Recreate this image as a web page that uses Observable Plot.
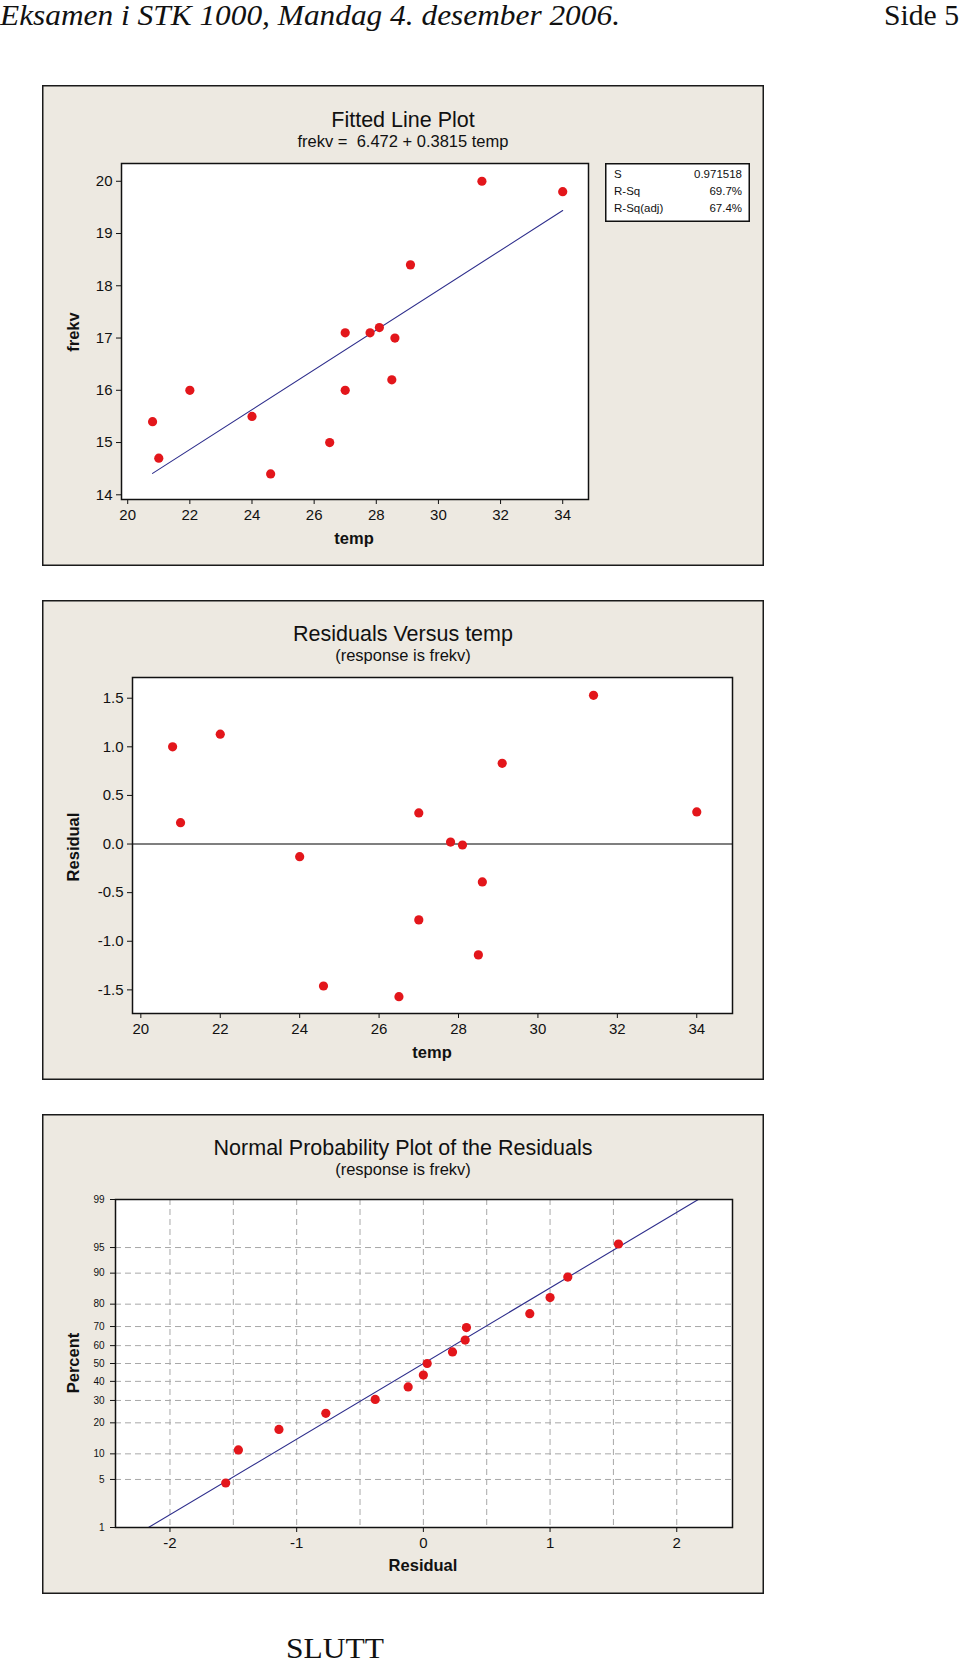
<!DOCTYPE html>
<html>
<head>
<meta charset="utf-8">
<script src="https://cdn.jsdelivr.net/npm/d3@7"></script>
<script src="https://cdn.jsdelivr.net/npm/@observablehq/plot@0.6"></script>
<style>
  html, body { margin: 0; padding: 0; background: #fff; }
  body { position: relative; width: 960px; height: 1663px; overflow: hidden; }
  .serif { position: absolute; font-family: "Liberation Serif", "DejaVu Serif", serif; font-size: 29px; line-height: 24px; white-space: nowrap; color: #111; transform-origin: 0 0; }
  .panel { position: absolute; left: 42px; width: 722px; background: #EDE9E1; box-shadow: inset 0 0 0 1.5px #1a1a1a; }
  .panel svg { position: absolute; left: 0; top: 0; }
  .t { position: absolute; left: 0; width: 100%; text-align: center; font-family: "Liberation Sans", Arial, sans-serif; color: #111; white-space: nowrap; transform: translateY(-50%); }
  .title { font-size: 21.5px; }
  .sub { font-size: 16.5px; }
  .xl { position: absolute; font-family: "Liberation Sans", Arial, sans-serif; font-weight: bold; font-size: 16.5px; color: #111; white-space: nowrap; transform: translate(-50%, -50%); }
  .yl { position: absolute; font-family: "Liberation Sans", Arial, sans-serif; font-weight: bold; font-size: 16.5px; color: #111; white-space: nowrap; transform: translate(-50%, -50%) rotate(-90deg); }
  .stats { position: absolute; background: #fff; box-shadow: inset 0 0 0 1.5px #111; font-family: "Liberation Sans", Arial, sans-serif; font-size: 11.5px; color: #111; box-sizing: border-box; padding: 3px 8px 0 9px; }
  .stats div { display: flex; justify-content: space-between; line-height: 17px; }
</style>
</head>
<body>
<div id="hdrL" class="serif" style="left:0px; top:3px; font-style:italic;">Eksamen i STK 1000, Mandag 4. desember 2006.</div>
<div id="hdrR" class="serif" style="left:884px; top:3px;">Side 5</div>

<div id="p1" class="panel" style="top:85px; height:481px;">
  <div class="t title" style="top:35px;">Fitted Line Plot</div>
  <div class="t sub" style="top:56px;">frekv =&nbsp; 6.472 + 0.3815 temp</div>
  <div class="xl" style="left:312px; top:453px;">temp</div>
  <div class="yl" style="left:31px; top:247px;">frekv</div>
</div>

<div id="p2" class="panel" style="top:600px; height:480px;">
  <div class="t title" style="top:34px;">Residuals Versus temp</div>
  <div class="t sub" style="top:55px;">(response is frekv)</div>
  <div class="xl" style="left:390px; top:452px;">temp</div>
  <div class="yl" style="left:31px; top:247px;">Residual</div>
</div>

<div id="p3" class="panel" style="top:1114px; height:480px;">
  <div class="t title" style="top:34px;">Normal Probability Plot of the Residuals</div>
  <div class="t sub" style="top:55px;">(response is frekv)</div>
  <div class="xl" style="left:381px; top:451px;">Residual</div>
  <div class="yl" style="left:31px; top:249px;">Percent</div>
</div>

<div id="slutt" class="serif" style="left:286px; top:1636px;">SLUTT</div>

<script>
// ---------------- data ----------------
const temp     = [20.8, 21.0, 22.0, 24.0, 24.6, 26.5, 27.0, 27.0, 27.8, 28.1, 28.5, 28.6, 29.1, 31.4, 34.0];
const frekv    = [15.4, 14.7, 16.0, 15.5, 14.4, 15.0, 17.1, 16.0, 17.1, 17.2, 16.2, 17.0, 18.4, 20.0, 19.8];
const residual = [1.00, 0.22, 1.13, -0.13, -1.46, -1.57, 0.32, -0.78, 0.02, -0.01, -1.14, -0.39, 0.83, 1.53, 0.33];

// fitted regression line endpoints (frekv = 6.472 + 0.3815 temp)
const fitTemp  = [20.8, 34.0];
const fitFrekv = [14.41, 19.44];

// normal probability plot: ordered residuals and plotting percentages
const normResid = [-1.56, -1.46, -1.14, -0.77, -0.38, -0.12, 0.00, 0.03, 0.23, 0.33, 0.34, 0.84, 1.00, 1.14, 1.54];
const normPct   = [4.5, 11.0, 17.5, 24.0, 30.5, 37.0, 43.5, 50.0, 56.5, 63.0, 69.5, 76.0, 82.5, 89.0, 95.5];
const normLineResid = [-2.17, 2.17];
const normLinePct   = [1, 99];

// tick labels
const tempTicks  = [20, 22, 24, 26, 28, 30, 32, 34];
const frekvTicks = [14, 15, 16, 17, 18, 19, 20];
const residTicks = [-1.5, -1.0, -0.5, 0.0, 0.5, 1.0, 1.5];
const normXTicks = [-2, -1, 0, 1, 2];
const normXGrid  = [-2, -1.5, -1, -0.5, 0, 0.5, 1, 1.5, 2];
const pctTicks   = [1, 5, 10, 20, 30, 40, 50, 60, 70, 80, 90, 95, 99];
const pctGrid    = [5, 10, 20, 30, 40, 50, 60, 70, 80, 90, 95];

// summary statistics box
const statLabels = ["S", "R-Sq", "R-Sq(adj)"];
const statValues = ["0.971518", "69.7%", "67.4%"];

// ---------------- helpers ----------------
function qnorm(p) {
  const a = [-3.969683028665376e+01, 2.209460984245205e+02, -2.759285104469687e+02, 1.383577518672690e+02, -3.066479806614716e+01, 2.506628277459239e+00];
  const b = [-5.447609879822406e+01, 1.615858368580409e+02, -1.556989798598866e+02, 6.680131188771972e+01, -1.328068155288572e+01];
  const c = [-7.784894002430293e-03, -3.223964580411365e-01, -2.400758277161838e+00, -2.549732539343734e+00, 4.374664141464968e+00, 2.938163982698783e+00];
  const d = [7.784695709041462e-03, 3.224671290700398e-01, 2.445134137142996e+00, 3.754408661907416e+00];
  const pl = 0.02425, ph = 1 - pl;
  let q, r;
  if (p < pl) {
    q = Math.sqrt(-2 * Math.log(p));
    return (((((c[0]*q+c[1])*q+c[2])*q+c[3])*q+c[4])*q+c[5]) / ((((d[0]*q+d[1])*q+d[2])*q+d[3])*q+1);
  }
  if (p > ph) {
    q = Math.sqrt(-2 * Math.log(1 - p));
    return -(((((c[0]*q+c[1])*q+c[2])*q+c[3])*q+c[4])*q+c[5]) / ((((d[0]*q+d[1])*q+d[2])*q+d[3])*q+1);
  }
  q = p - 0.5; r = q * q;
  return (((((a[0]*r+a[1])*r+a[2])*r+a[3])*r+a[4])*r+a[5])*q / (((((b[0]*r+b[1])*r+b[2])*r+b[3])*r+b[4])*r+1);
}

const FONT = "'Liberation Sans', Arial, sans-serif";
const RED = "#E3161B";
const NAVY = "#2E2E8C";
const baseStyle = { background: "transparent", fontFamily: FONT, fontSize: "15px", color: "#111", overflow: "visible" };

// ---------------- panel 1: fitted line plot ----------------
const pts = temp.map((t, i) => ({ temp: t, frekv: frekv[i], residual: residual[i] }));
const fitLine = fitTemp.map((t, i) => ({ temp: t, frekv: fitFrekv[i] }));

const p1 = Plot.plot({
  width: 722, height: 481,
  marginLeft: 79, marginRight: 176, marginTop: 78, marginBottom: 67,
  style: baseStyle,
  x: { domain: [19.80, 34.83], ticks: tempTicks, tickSize: 5, tickPadding: 5, label: null, tickFormat: d => String(d) },
  y: { domain: [13.91, 20.34], ticks: frekvTicks, tickSize: 5, tickPadding: 4, label: null, tickFormat: d => String(d) },
  marks: [
    Plot.frame({ fill: "white" }),
    Plot.line(fitLine, { x: "temp", y: "frekv", stroke: NAVY, strokeWidth: 1.1 }),
    Plot.dot(pts, { x: "temp", y: "frekv", r: 4.6, fill: RED }),
    Plot.frame({ stroke: "#111", strokeWidth: 1.5 })
  ]
});
document.getElementById("p1").prepend(p1);

const box = document.createElement("div");
box.className = "stats";
Object.assign(box.style, { left: "563px", top: "78px", width: "145px", height: "59px" });
statLabels.forEach((lab, i) => {
  const row = document.createElement("div");
  const a = document.createElement("span"); a.textContent = lab;
  const b = document.createElement("span"); b.textContent = statValues[i];
  row.append(a, b); box.append(row);
});
document.getElementById("p1").append(box);

// ---------------- panel 2: residuals vs temp ----------------
const p2 = Plot.plot({
  width: 722, height: 480,
  marginLeft: 90, marginRight: 32, marginTop: 77, marginBottom: 67,
  style: baseStyle,
  x: { domain: [19.79, 34.9], ticks: tempTicks, tickSize: 5, tickPadding: 5, label: null, tickFormat: d => String(d) },
  y: { domain: [-1.743, 1.713], ticks: residTicks, tickSize: 5, tickPadding: 4, label: null, tickFormat: d => d.toFixed(1) },
  marks: [
    Plot.frame({ fill: "white" }),
    Plot.ruleY([0], { stroke: "#555", strokeWidth: 1.6 }),
    Plot.dot(pts, { x: "temp", y: "residual", r: 4.6, fill: RED }),
    Plot.frame({ stroke: "#111", strokeWidth: 1.5 })
  ]
});
document.getElementById("p2").prepend(p2);

// ---------------- panel 3: normal probability plot ----------------
const normPts = normResid.map((r, i) => ({ resid: r, pct: normPct[i] }));
const normLine = normLineResid.map((r, i) => ({ resid: r, pct: normLinePct[i] }));
const zOf = d => qnorm(d.pct / 100);

const p3 = Plot.plot({
  width: 722, height: 480,
  marginLeft: 73, marginRight: 32, marginTop: 85, marginBottom: 67,
  style: baseStyle,
  x: { domain: [-2.43, 2.44], ticks: normXTicks, tickSize: 5, tickPadding: 5, label: null, tickFormat: d => String(d) },
  y: {
    domain: [qnorm(0.01), qnorm(0.99)],
    ticks: pctTicks.map(p => qnorm(p / 100)),
    tickSize: 5, tickPadding: 6, label: null,
    tickFormat: z => { const i = pctTicks.findIndex(p => Math.abs(qnorm(p / 100) - z) < 1e-6); return i < 0 ? "" : String(pctTicks[i]); }
  },
  marks: [
    Plot.frame({ fill: "white" }),
    Plot.ruleX(normXGrid, { stroke: "#A8A8A8", strokeWidth: 1, strokeDasharray: "6,4" }),
    Plot.ruleY(pctGrid, { y: p => qnorm(p / 100), stroke: "#A8A8A8", strokeWidth: 1, strokeDasharray: "6,4" }),
    Plot.line(normLine, { x: "resid", y: zOf, stroke: NAVY, strokeWidth: 1.1 }),
    Plot.dot(normPts, { x: "resid", y: zOf, r: 4.6, fill: RED }),
    Plot.frame({ stroke: "#111", strokeWidth: 1.5 })
  ]
});
document.getElementById("p3").prepend(p3);
// smaller percent labels on the probability axis
p3.querySelectorAll('g[aria-label="y-axis tick label"], g[aria-label="y-axis"]').forEach(g => g.setAttribute("font-size", "10"));
p3.querySelectorAll('g[aria-label="y-axis"] text').forEach(t => t.setAttribute("font-size", "10"));

// ---------------- fit header / footer text widths ----------------
function fitWidth(id, target) {
  const el = document.getElementById(id);
  const w = el.getBoundingClientRect().width;
  if (w > 0) el.style.transform = `scaleX(${target / w})`;
}
fitWidth("hdrL", 620);
fitWidth("hdrR", 75);
fitWidth("slutt", 98);
</script>
</body>
</html>
